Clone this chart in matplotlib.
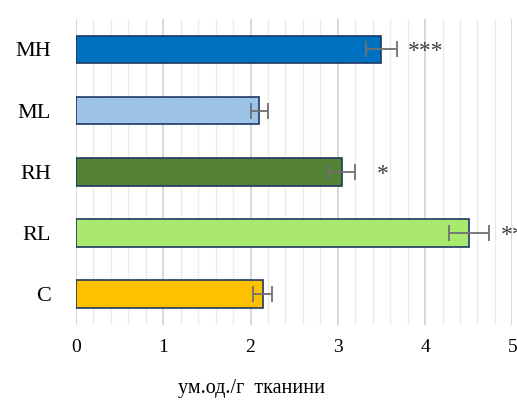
import matplotlib.pyplot as plt
import numpy as np

# Groups listed bottom-to-top
groups = ['C', 'RL', 'RH', 'ML', 'MH']
values = [2.14, 4.50, 3.05, 2.10, 3.50]
errors = [0.11, 0.23, 0.15, 0.10, 0.18]
marks = ['', '**', '*', '', '***']
colors = ['#FFC000', '#A9EA6E', '#548235', '#9DC3E6', '#0070C0']

plt.rcParams['font.family'] = ['Liberation Serif', 'DejaVu Serif']

fig = plt.figure(figsize=(5.17, 4.01), dpi=100)
ax = fig.add_axes([0.147, 0.19, 0.844, 0.763])

y = np.arange(len(groups))
ax.barh(y, values, height=0.45, color=colors, edgecolor='#1F3864',
        linewidth=1.2, zorder=3)
ax.errorbar(values, y, xerr=errors, fmt='none', ecolor='#707070',
            elinewidth=1.3, capsize=5.5, capthick=1.3, zorder=4)

# significance stars to the right of the bars
star_x = {'***': 3.8, '*': 3.45, '**': 4.87}
for yi, m in zip(y, marks):
    if m:
        ax.text(star_x[m], yi - 0.04, m, ha='left', va='center', fontsize=17,
                color='#404040', zorder=5, clip_on=False)

ax.set_xlim(0, 5)
ax.set_ylim(-0.5, 4.5)
ax.set_xticks(np.arange(0, 6, 1))
ax.set_xticks(np.arange(0, 5.01, 0.2), minor=True)
ax.set_yticks(y)
ax.set_yticklabels(groups)
ax.tick_params(axis='both', which='both', length=0, colors='black')
ax.tick_params(axis='x', pad=10, labelsize=14)
ax.tick_params(axis='y', pad=18, labelsize=16)
ax.grid(axis='x', which='major', color='#D5D5D5', linewidth=1.3, zorder=0)
ax.grid(axis='x', which='minor', color='#EBEBEB', linewidth=1.0, zorder=0)
for s in ax.spines.values():
    s.set_visible(False)

fig.text(251 / 517, 1 - 388 / 401, 'ум.од./г  тканини', ha='center',
         va='center', fontsize=14.5)

fig.savefig('out.png', dpi=100)
